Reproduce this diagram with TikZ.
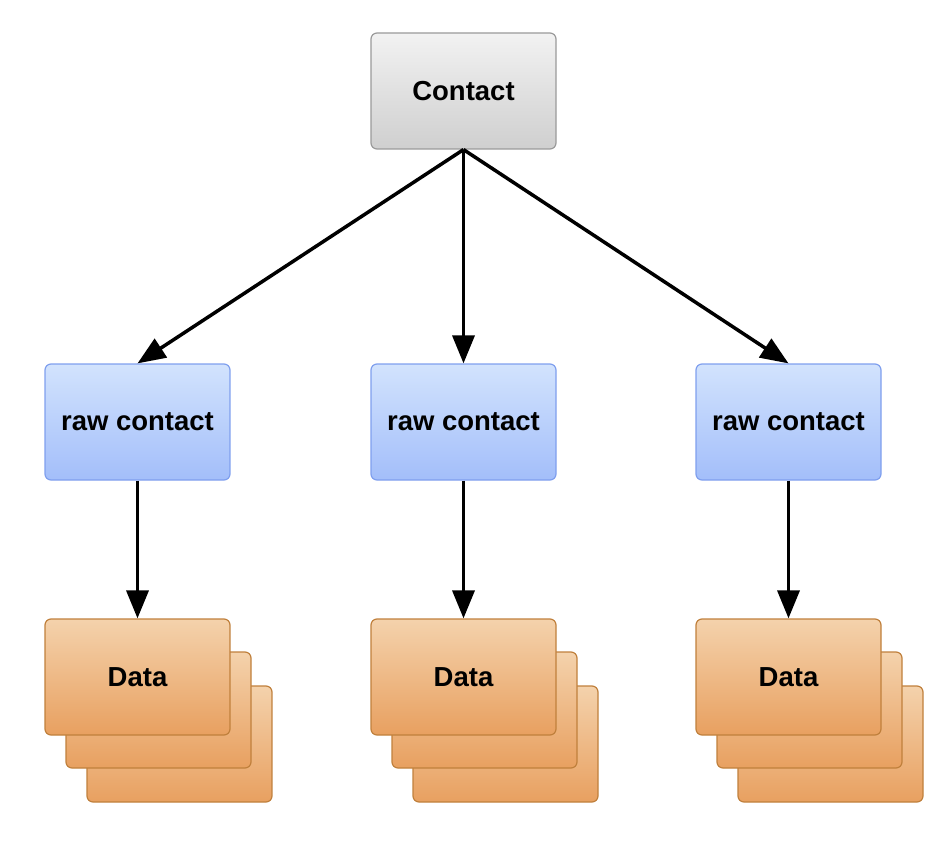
\documentclass[tikz,border=0pt]{standalone}
\usepackage{fontspec}
\setmainfont{Liberation Sans}
\usetikzlibrary{arrows.meta}
\definecolor{gtop}{HTML}{F2F2F2}
\definecolor{gbot}{HTML}{CFCFCF}
\definecolor{gbd}{HTML}{9A9A9A}
\definecolor{btop}{HTML}{D2E3FD}
\definecolor{bbot}{HTML}{A3BEFA}
\definecolor{bbd}{HTML}{7F9FEE}
\definecolor{otop}{HTML}{F4D2AC}
\definecolor{obot}{HTML}{E8A060}
\definecolor{obd}{HTML}{C0803C}
\tikzset{
  box/.style={rounded corners=6pt, minimum width=185pt, minimum height=116pt, inner sep=0pt,
    font=\fontsize{27.5}{30}\selectfont\bfseries, line width=1.2pt},
  graybox/.style={box, draw=gbd, top color=gtop, bottom color=gbot},
  bluebox/.style={box, draw=bbd, top color=btop, bottom color=bbot},
  orangebox/.style={box, draw=obd, top color=otop, bottom color=obot},
  conn/.style={line width=3.5pt, -{Triangle[length=28pt,width=22pt]}}
}
\begin{document}
\begin{tikzpicture}[x=1pt,y=-1pt]
\useasboundingbox (0,0) rectangle (948,842);
\node[graybox] (c) at (463.5,91) {Contact};
\foreach \i/\x in {1/137.5,2/463.5,3/788.5}{
  \node[bluebox] (r\i) at (\x,422) {raw contact};
  \node[orangebox] (d\i c) at (\x+42,744) {};
  \node[orangebox] (d\i b) at (\x+21,710) {};
  \node[orangebox] (d\i a) at (\x,677) {Data};
  \draw[conn] (r\i.south) -- (d\i a.north);
}
\draw[conn] (c.south) -- (r1.north);
\draw[conn] (c.south) -- (r2.north);
\draw[conn] (c.south) -- (r3.north);
\end{tikzpicture}
\end{document}
